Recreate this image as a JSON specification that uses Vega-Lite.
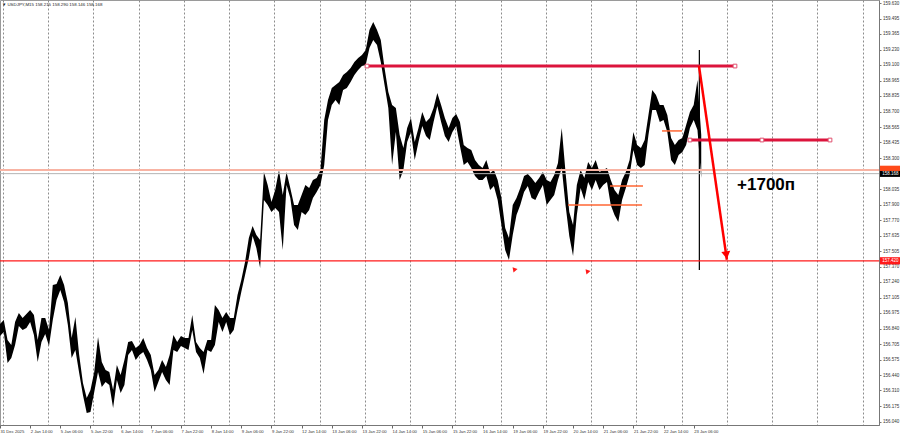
{
"$schema": "https://vega.github.io/schema/vega-lite/v6.json",
"width": 879, "height": 425, "padding": {"left": 0, "top": 0, "right": 21, "bottom": 11}, "autosize": {"type": "none"},
"background": "white",
"config": {"view": {"stroke": "#9a9a9a", "strokeWidth": 1}, "font": "Liberation Sans", "axis": {"labelOverlap": false, "labelBound": false, "labelFlush": false}},
"resolve": {"axis": {"x": "independent", "y": "independent"}},
"datasets": {
"bars": [
{"t":0,"hi":156.880,"lo":156.777},{"t":2,"hi":156.914,"lo":156.811},{"t":4,"hi":156.743,"lo":156.545},{"t":6,"hi":156.700,"lo":156.588},{"t":8,"hi":156.897,"lo":156.700},{"t":10,"hi":156.974,"lo":156.863},{"t":12,"hi":156.931,"lo":156.828},{"t":14,"hi":156.965,"lo":156.845},{"t":16,"hi":157.000,"lo":156.897},{"t":18,"hi":156.957,"lo":156.785},
{"t":20,"hi":156.743,"lo":156.554},{"t":22,"hi":156.931,"lo":156.725},{"t":24,"hi":156.931,"lo":156.794},{"t":26,"hi":156.828,"lo":156.691},{"t":28,"hi":157.214,"lo":156.914},{"t":30,"hi":157.222,"lo":157.085},{"t":32,"hi":157.300,"lo":157.171},{"t":34,"hi":157.214,"lo":157.068},{"t":36,"hi":157.060,"lo":156.871},{"t":38,"hi":156.760,"lo":156.588},
{"t":40,"hi":156.940,"lo":156.657},{"t":42,"hi":156.614,"lo":156.460},{"t":44,"hi":156.374,"lo":156.271},{"t":46,"hi":156.245,"lo":156.117},{"t":48,"hi":156.314,"lo":156.126},{"t":50,"hi":156.468,"lo":156.297},{"t":52,"hi":156.768,"lo":156.468},{"t":54,"hi":156.554,"lo":156.340},{"t":56,"hi":156.486,"lo":156.383},{"t":58,"hi":156.468,"lo":156.357},
{"t":60,"hi":156.314,"lo":156.160},{"t":62,"hi":156.528,"lo":156.400},{"t":64,"hi":156.443,"lo":156.288},{"t":66,"hi":156.571,"lo":156.357},{"t":68,"hi":156.725,"lo":156.614},{"t":70,"hi":156.734,"lo":156.657},{"t":72,"hi":156.674,"lo":156.571},{"t":74,"hi":156.700,"lo":156.614},{"t":76,"hi":156.760,"lo":156.640},{"t":78,"hi":156.674,"lo":156.571},
{"t":80,"hi":156.614,"lo":156.486},{"t":82,"hi":156.443,"lo":156.297},{"t":84,"hi":156.486,"lo":156.383},{"t":86,"hi":156.571,"lo":156.468},{"t":88,"hi":156.511,"lo":156.400},{"t":90,"hi":156.614,"lo":156.357},{"t":92,"hi":156.785,"lo":156.657},{"t":94,"hi":156.725,"lo":156.640},{"t":96,"hi":156.777,"lo":156.691},{"t":98,"hi":156.760,"lo":156.674},
{"t":100,"hi":156.760,"lo":156.657},{"t":102,"hi":156.957,"lo":156.828},{"t":104,"hi":156.725,"lo":156.640},{"t":106,"hi":156.674,"lo":156.588},{"t":108,"hi":156.640,"lo":156.451},{"t":110,"hi":156.743,"lo":156.657},{"t":112,"hi":156.743,"lo":156.640},{"t":114,"hi":157.042,"lo":156.700},{"t":116,"hi":157.000,"lo":156.897},{"t":118,"hi":156.931,"lo":156.811},
{"t":120,"hi":156.983,"lo":156.897},{"t":122,"hi":156.931,"lo":156.785},{"t":124,"hi":156.931,"lo":156.828},{"t":126,"hi":157.128,"lo":157.000},{"t":128,"hi":157.257,"lo":157.154},{"t":130,"hi":157.411,"lo":157.300},{"t":132,"hi":157.617,"lo":157.445},{"t":134,"hi":157.719,"lo":157.634},{"t":136,"hi":157.642,"lo":157.531},{"t":138,"hi":157.600,"lo":157.360},
{"t":140,"hi":158.182,"lo":157.942},{"t":142,"hi":158.071,"lo":157.899},{"t":144,"hi":157.925,"lo":157.839},{"t":146,"hi":158.028,"lo":157.874},{"t":148,"hi":158.199,"lo":157.839},{"t":150,"hi":157.985,"lo":157.514},{"t":152,"hi":158.182,"lo":158.071},{"t":154,"hi":158.045,"lo":157.959},{"t":156,"hi":157.899,"lo":157.728},{"t":158,"hi":157.899,"lo":157.685},
{"t":160,"hi":157.985,"lo":157.839},{"t":162,"hi":158.071,"lo":157.814},{"t":164,"hi":158.045,"lo":157.857},{"t":166,"hi":158.114,"lo":157.959},{"t":168,"hi":158.131,"lo":158.011},{"t":170,"hi":158.199,"lo":158.071},{"t":172,"hi":158.628,"lo":158.242},{"t":174,"hi":158.799,"lo":158.628},{"t":176,"hi":158.902,"lo":158.756},{"t":178,"hi":158.928,"lo":158.799},
{"t":180,"hi":158.953,"lo":158.756},{"t":182,"hi":159.013,"lo":158.885},{"t":184,"hi":159.039,"lo":158.902},{"t":186,"hi":159.073,"lo":158.953},{"t":188,"hi":159.125,"lo":159.013},{"t":190,"hi":159.159,"lo":159.056},{"t":192,"hi":159.185,"lo":159.090},{"t":194,"hi":159.228,"lo":159.099},{"t":196,"hi":159.399,"lo":159.245},{"t":198,"hi":159.467,"lo":159.313},
{"t":200,"hi":159.399,"lo":159.270},{"t":202,"hi":159.313,"lo":159.125},{"t":204,"hi":159.073,"lo":158.928},{"t":206,"hi":158.868,"lo":158.731},{"t":208,"hi":158.756,"lo":158.242},{"t":210,"hi":158.731,"lo":158.525},{"t":212,"hi":158.499,"lo":158.114},{"t":214,"hi":158.388,"lo":158.199},{"t":216,"hi":158.559,"lo":158.439},{"t":218,"hi":158.645,"lo":158.525},
{"t":220,"hi":158.439,"lo":158.285},{"t":222,"hi":158.559,"lo":158.439},{"t":224,"hi":158.696,"lo":158.576},{"t":226,"hi":158.611,"lo":158.491},{"t":228,"hi":158.645,"lo":158.456},{"t":230,"hi":158.731,"lo":158.611},{"t":232,"hi":158.859,"lo":158.748},{"t":234,"hi":158.756,"lo":158.611},{"t":236,"hi":158.645,"lo":158.491},{"t":238,"hi":158.559,"lo":158.439},
{"t":240,"hi":158.645,"lo":158.525},{"t":242,"hi":158.679,"lo":158.576},{"t":244,"hi":158.611,"lo":158.405},{"t":246,"hi":158.413,"lo":158.242},{"t":248,"hi":158.388,"lo":158.268},{"t":250,"hi":158.371,"lo":158.216},{"t":252,"hi":158.285,"lo":158.148},{"t":254,"hi":158.242,"lo":158.114},{"t":256,"hi":158.216,"lo":158.114},{"t":258,"hi":158.285,"lo":158.148},
{"t":260,"hi":158.174,"lo":158.028},{"t":262,"hi":158.199,"lo":158.062},{"t":264,"hi":158.114,"lo":157.942},{"t":266,"hi":157.959,"lo":157.728},{"t":268,"hi":157.702,"lo":157.514},{"t":270,"hi":157.617,"lo":157.428},{"t":272,"hi":157.899,"lo":157.642},{"t":274,"hi":157.959,"lo":157.814},{"t":276,"hi":158.045,"lo":157.899},{"t":278,"hi":158.148,"lo":158.011},
{"t":280,"hi":158.165,"lo":158.062},{"t":282,"hi":158.131,"lo":157.959},{"t":284,"hi":158.088,"lo":157.942},{"t":286,"hi":158.131,"lo":158.011},{"t":288,"hi":158.182,"lo":158.071},{"t":290,"hi":158.114,"lo":157.899},{"t":292,"hi":158.096,"lo":157.942},{"t":294,"hi":158.156,"lo":157.985},{"t":296,"hi":158.259,"lo":158.114},{"t":298,"hi":158.559,"lo":158.216},
{"t":300,"hi":158.182,"lo":157.899},{"t":302,"hi":157.839,"lo":157.634},{"t":304,"hi":157.728,"lo":157.462},{"t":306,"hi":158.071,"lo":157.814},{"t":308,"hi":158.199,"lo":158.045},{"t":310,"hi":158.131,"lo":157.942},{"t":312,"hi":158.268,"lo":158.096},{"t":314,"hi":158.216,"lo":158.028},{"t":316,"hi":158.285,"lo":158.114},{"t":318,"hi":158.182,"lo":158.028},
{"t":320,"hi":158.199,"lo":158.071},{"t":322,"hi":158.216,"lo":158.096},{"t":324,"hi":158.114,"lo":157.899},{"t":326,"hi":158.028,"lo":157.814},{"t":328,"hi":157.985,"lo":157.754},{"t":330,"hi":158.114,"lo":157.942},{"t":332,"hi":158.182,"lo":158.045},{"t":334,"hi":158.285,"lo":158.156},{"t":336,"hi":158.525,"lo":158.371},{"t":338,"hi":158.413,"lo":158.242},
{"t":340,"hi":158.388,"lo":158.216},{"t":342,"hi":158.456,"lo":158.242},{"t":344,"hi":158.671,"lo":158.499},{"t":346,"hi":158.885,"lo":158.713},{"t":348,"hi":158.842,"lo":158.713},{"t":350,"hi":158.756,"lo":158.611},{"t":352,"hi":158.756,"lo":158.628},{"t":354,"hi":158.671,"lo":158.525},{"t":356,"hi":158.474,"lo":158.285},{"t":358,"hi":158.413,"lo":158.242},
{"t":360,"hi":158.456,"lo":158.328},{"t":362,"hi":158.474,"lo":158.353},{"t":364,"hi":158.585,"lo":158.413},{"t":366,"hi":158.696,"lo":158.559},{"t":368,"hi":158.756,"lo":158.628},{"t":370,"hi":158.970,"lo":158.542},{"t":372,"hi":158.499,"lo":158.131}
],
"wicks": [{"t":371,"hi":159.228,"lo":157.342}],
"trend": [{"t1":194.7,"t2":389.9,"p":159.090},{"t1":366.0,"t2":440.3,"p":158.456}],
"anchors": [{"t":194.7,"p":159.090},{"t":389.9,"p":159.090},{"t":366.0,"p":158.456},{"t":404.2,"p":158.456},{"t":440.3,"p":158.456}],
"arrow": [{"t1":370.8,"p1":159.090,"t2":385.6,"p2":157.43}],
"arrowhead": [{"t":385.3,"p":157.47}],
"levels": [{"t1":351.2,"t2":361.8,"p":158.534},{"t1":323.6,"t2":341.1,"p":158.062},{"t1":301.3,"t2":340.6,"p":157.899}],
"lowmarks": [{"t":272.7,"p":157.351},{"t":311.4,"p":157.334}],
"one": [{}]
},
"layer": [
{"data": {"name": "bars"},
 "mark": {"type": "area", "color": "black", "strokeWidth": 0},
 "encoding": {
  "x": {"field": "t", "type": "quantitative", "scale": {"domain": [0, 466.3], "nice": false, "zero": false},
   "axis": {"title": null, "orient": "bottom",
    "values": [0,16,32,48,64,80,96,112,128,144,160,176,192,208,224,240,256,272,288,304,320,336,352,368,1.6,25.6,49.6,73.6,97.6,121.6,145.6,169.6,193.6,217.6,241.6,265.6,289.6,313.6,337.6,361.6,385.6,409.6,433.6,457.6],
    "labelExpr": "datum.value % 1 == 0 ? ['31 Dec 2025','2 Jan 14:00','5 Jan 06:00','5 Jan 22:00','6 Jan 14:00','7 Jan 06:00','7 Jan 22:00','8 Jan 14:00','9 Jan 06:00','9 Jan 22:00','12 Jan 14:00','13 Jan 06:00','13 Jan 22:00','14 Jan 14:00','15 Jan 06:00','15 Jan 22:00','16 Jan 14:00','19 Jan 06:00','19 Jan 22:00','20 Jan 14:00','21 Jan 06:00','21 Jan 22:00','22 Jan 14:00','23 Jan 06:00'][datum.value/16] : ''",
    "labelFontSize": 4.2, "labelColor": "#333", "labelAlign": "left", "labelPadding": 1,
    "labelOverlap": false, "labelBound": false, "labelFlush": false,
    "tickSize": 3, "tickColor": "#666",
    "tickOpacity": {"condition": {"test": "datum.value % 1 == 0", "value": 1}, "value": 0},
    "grid": true, "gridColor": "#8c8c8c", "gridDash": [2, 2], "gridWidth": 1,
    "gridOpacity": {"condition": {"test": "datum.value % 1 != 0", "value": 1}, "value": 0},
    "domainColor": "#777"}},
  "y": {"field": "lo", "type": "quantitative", "scale": {"domain": [156.014, 159.656], "nice": false, "zero": false},
   "axis": {"title": null, "orient": "right",
    "values": [159.630,159.495,159.365,159.230,159.100,158.965,158.835,158.700,158.565,158.435,158.300,158.035,157.900,157.770,157.635,157.505,157.370,157.240,157.105,156.975,156.840,156.705,156.575,156.440,156.310,156.175,156.040],
    "format": ".3f", "labelFontSize": 4.5, "labelColor": "#333", "labelPadding": 1.5,
    "labelOverlap": false, "labelBound": false, "labelFlush": false,
    "tickSize": 2, "tickColor": "#777", "grid": false, "domainColor": "#777"}},
  "y2": {"field": "hi"}
 }},
{"data": {"name": "wicks"},
 "mark": {"type": "rule", "color": "black", "strokeWidth": 1.2},
 "encoding": {"x": {"field": "t", "type": "quantitative", "axis": null}, "y": {"field": "lo", "type": "quantitative", "axis": null}, "y2": {"field": "hi"}}},
{"data": {"name": "one"},
 "mark": {"type": "rule", "color": "#f8b3a3", "strokeWidth": 2},
 "encoding": {"y": {"datum": 158.199, "type": "quantitative", "axis": null}}},
{"data": {"name": "one"},
 "mark": {"type": "rule", "color": "#b4b4b4", "strokeWidth": 1},
 "encoding": {"y": {"datum": 158.168, "type": "quantitative", "axis": null}}},
{"data": {"name": "one"},
 "mark": {"type": "rule", "color": "#ff1a1a", "strokeWidth": 1.2},
 "encoding": {"y": {"datum": 157.420, "type": "quantitative", "axis": null}}},
{"data": {"name": "levels"},
 "mark": {"type": "rule", "color": "#ff6633", "strokeWidth": 1.5},
 "encoding": {"x": {"field": "t1", "type": "quantitative", "axis": null}, "x2": {"field": "t2"}, "y": {"field": "p", "type": "quantitative", "axis": null}}},
{"data": {"name": "trend"},
 "mark": {"type": "rule", "color": "#dc143c", "strokeWidth": 3},
 "encoding": {"x": {"field": "t1", "type": "quantitative", "axis": null}, "x2": {"field": "t2"}, "y": {"field": "p", "type": "quantitative", "axis": null}}},
{"data": {"name": "anchors"},
 "mark": {"type": "point", "shape": "square", "filled": true, "fill": "white", "stroke": "#e0506e", "strokeWidth": 1, "size": 14, "opacity": 1},
 "encoding": {"x": {"field": "t", "type": "quantitative", "axis": null}, "y": {"field": "p", "type": "quantitative", "axis": null}}},
{"data": {"name": "arrow"},
 "mark": {"type": "rule", "color": "#ff0000", "strokeWidth": 2.5},
 "encoding": {"x": {"field": "t1", "type": "quantitative", "axis": null}, "x2": {"field": "t2"}, "y": {"field": "p1", "type": "quantitative", "axis": null}, "y2": {"field": "p2"}}},
{"data": {"name": "arrowhead"},
 "mark": {"type": "point", "shape": "triangle-down", "filled": true, "color": "#ff0000", "size": 80, "angle": 352, "opacity": 1},
 "encoding": {"x": {"field": "t", "type": "quantitative", "axis": null}, "y": {"field": "p", "type": "quantitative", "axis": null}}},
{"data": {"name": "lowmarks"},
 "mark": {"type": "point", "shape": "triangle-up", "filled": true, "color": "#ff1a1a", "size": 28, "angle": 320, "opacity": 1},
 "encoding": {"x": {"field": "t", "type": "quantitative", "axis": null}, "y": {"field": "p", "type": "quantitative", "axis": null}}},
{"data": {"name": "one"},
 "mark": {"type": "text", "text": "+1700п", "font": "Liberation Sans", "fontWeight": "bold", "fontSize": 17, "align": "left", "baseline": "middle", "color": "black"},
 "encoding": {"x": {"datum": 391.0, "type": "quantitative", "axis": null}, "y": {"datum": 158.071, "type": "quantitative", "axis": null}}},
{"data": {"name": "one"},
 "mark": {"type": "text", "text": "▼ USDJPY,M15  158.215 158.290 158.146 158.168", "fontSize": 4.4, "align": "left", "baseline": "middle", "color": "#222"},
 "encoding": {"x": {"datum": 1.0, "type": "quantitative", "axis": null}, "y": {"datum": 159.612, "type": "quantitative", "axis": null}}},
{"data": {"name": "one"},
 "mark": {"type": "rect", "color": "#ff4a1a"},
 "encoding": {"x": {"datum": 466.8, "type": "quantitative", "axis": null}, "x2": {"datum": 477.5}, "y": {"datum": 158.236, "type": "quantitative", "axis": null}, "y2": {"datum": 158.186}}},
{"data": {"name": "one"},
 "mark": {"type": "rect", "color": "#000000"},
 "encoding": {"x": {"datum": 466.8, "type": "quantitative", "axis": null}, "x2": {"datum": 477.5}, "y": {"datum": 158.191, "type": "quantitative", "axis": null}, "y2": {"datum": 158.140}}},
{"data": {"name": "one"},
 "mark": {"type": "text", "text": "158.168", "fontSize": 4.5, "align": "center", "baseline": "middle", "color": "white"},
 "encoding": {"x": {"datum": 472.3, "type": "quantitative", "axis": null}, "y": {"datum": 158.166, "type": "quantitative", "axis": null}}},
{"data": {"name": "one"},
 "mark": {"type": "rect", "color": "#ff1a1a"},
 "encoding": {"x": {"datum": 466.8, "type": "quantitative", "axis": null}, "x2": {"datum": 477.5}, "y": {"datum": 157.452, "type": "quantitative", "axis": null}, "y2": {"datum": 157.390}}},
{"data": {"name": "one"},
 "mark": {"type": "text", "text": "157.420", "fontSize": 4.5, "align": "center", "baseline": "middle", "color": "white"},
 "encoding": {"x": {"datum": 472.3, "type": "quantitative", "axis": null}, "y": {"datum": 157.421, "type": "quantitative", "axis": null}}}
]
}
